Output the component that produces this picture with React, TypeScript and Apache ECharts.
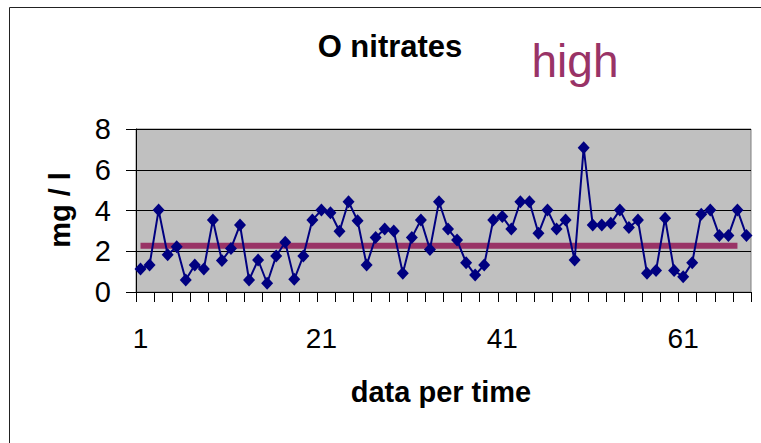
import React, { useEffect, useRef } from "react";
import * as echarts from "echarts";

const categories: string[] = Array.from({ length: 68 }, (_, i) => String(i + 1));
const nitrates: number[] = [
  1.13, 1.33, 4.02, 1.83, 2.22, 0.59, 1.33, 1.13, 3.53, 1.54,
  2.14, 3.29, 0.59, 1.57, 0.43, 1.77, 2.44, 0.62, 1.77, 3.53,
  4.02, 3.89, 2.98, 4.43, 3.5, 1.33, 2.68, 3.09, 2.99, 0.92,
  2.68, 3.53, 2.09, 4.43, 3.09, 2.55, 1.44, 0.83, 1.33, 3.53,
  3.7, 3.09, 4.43, 4.43, 2.88, 4.02, 3.09, 3.53, 1.57, 7.08,
  3.29, 3.29, 3.37, 4.02, 3.17, 3.53, 0.92, 1.05, 3.62, 1.05,
  0.75, 1.44, 3.81, 4.02, 2.77, 2.77, 4.02, 2.77,
];
const highLevel = 2.27;
const highStart = "1";
const highEnd = "67";
const yTicks = { min: 0, max: 8, interval: 2 };

const FONT = "'Liberation Sans', Arial, sans-serif";

export default function App() {
  const ref = useRef<HTMLDivElement>(null);
  useEffect(() => {
    document.body.style.margin = "0";
    if (!ref.current) return;
    const chart = echarts.init(ref.current, null, { renderer: "svg" });
    chart.setOption({
      animation: false,
      backgroundColor: "#ffffff",
      textStyle: { fontFamily: FONT },
      grid: {
        left: 136,
        right: 10,
        top: 129,
        bottom: 151,
        show: true,
        backgroundColor: "#c0c0c0",
        borderColor: "#808080",
        borderWidth: 1,
      },
      graphic: [
        {
          type: "rect",
          shape: { x: 9.5, y: 7.5, width: 800, height: 500 },
          style: { fill: "none", stroke: "#222", lineWidth: 1 },
          z: 100,
        },
        {
          type: "text",
          x: 390,
          y: 46,
          style: {
            text: "O nitrates",
            font: `bold 31px ${FONT}`,
            fill: "#000",
            textAlign: "center",
            textVerticalAlign: "middle",
          },
        },
        {
          type: "text",
          x: 575,
          y: 61,
          style: {
            text: "high",
            font: `46px ${FONT}`,
            fill: "#993366",
            textAlign: "center",
            textVerticalAlign: "middle",
          },
        },
        {
          type: "text",
          x: 441,
          y: 392,
          style: {
            text: "data per time",
            font: `bold 29px ${FONT}`,
            fill: "#000",
            textAlign: "center",
            textVerticalAlign: "middle",
          },
        },
        {
          type: "text",
          x: 60,
          y: 210,
          rotation: Math.PI / 2,
          style: {
            text: "mg / l",
            font: `bold 29px ${FONT}`,
            fill: "#000",
            textAlign: "center",
            textVerticalAlign: "middle",
          },
        },
      ],
      xAxis: {
        type: "category",
        data: categories,
        boundaryGap: true,
        axisLine: { show: true, lineStyle: { color: "#000", width: 1 } },
        axisTick: { show: true, interval: 1, length: 10, lineStyle: { color: "#000" } },
        axisLabel: {
          interval: 19,
          margin: 32,
          fontSize: 28,
          color: "#000",
          fontFamily: FONT,
        },
        splitLine: { show: false },
      },
      yAxis: {
        type: "value",
        min: yTicks.min,
        max: yTicks.max,
        interval: yTicks.interval,
        axisLine: { show: true, lineStyle: { color: "#000", width: 1 } },
        axisTick: { show: true, length: 10, lineStyle: { color: "#000" } },
        axisLabel: { margin: 25, fontSize: 29, color: "#000", fontFamily: FONT },
        splitLine: { show: true, lineStyle: { color: "#000", width: 1 } },
      },
      series: [
        {
          type: "line",
          name: "high",
          data: [
            [highStart, highLevel],
            [highEnd, highLevel],
          ],
          symbol: "none",
          lineStyle: { color: "#993366", width: 6 },
          z: 2,
        },
        {
          type: "line",
          name: "O nitrates",
          data: nitrates,
          symbol: "diamond",
          symbolSize: [12, 13],
          showAllSymbol: true,
          itemStyle: { color: "#000080" },
          lineStyle: { color: "#000080", width: 2 },
          z: 3,
        },
      ],
    });
    return () => chart.dispose();
  }, []);
  return <div ref={ref} style={{ width: 761, height: 443 }} />;
}
